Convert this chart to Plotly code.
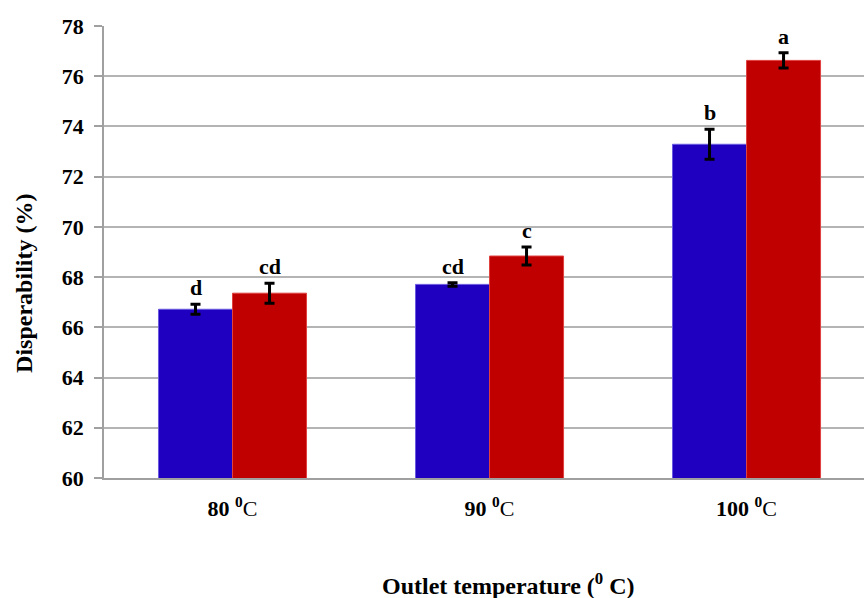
import plotly.graph_objects as go

categories = ["80 °C", "90 °C", "100 °C"]
tick_labels = ["<b>80 <sup>0</sup></b>C", "<b>90 <sup>0</sup></b>C", "<b>100 <sup>0</sup></b>C"]
series1_values = [66.72, 67.71, 73.29]
series1_errors = [0.20, 0.07, 0.60]
series1_letters = ["d", "cd", "b"]
series2_values = [67.36, 68.84, 76.63]
series2_errors = [0.40, 0.36, 0.30]
series2_letters = ["cd", "c", "a"]

xpos = list(range(len(categories)))
font_family = "Liberation Serif, Times New Roman, serif"

fig = go.Figure()
fig.add_trace(go.Bar(
    x=xpos, y=series1_values, name="Series 1",
    marker=dict(color="#2000C0", line=dict(color="#6a5ae0", width=1)),
    error_y=dict(type="data", array=series1_errors, color="black", thickness=3, width=5),
    offsetgroup="a",
))
fig.add_trace(go.Bar(
    x=xpos, y=series2_values, name="Series 2",
    marker=dict(color="#C00000", line=dict(color="#e04040", width=1)),
    error_y=dict(type="data", array=series2_errors, color="black", thickness=3, width=5),
    offsetgroup="b",
))

bar_w = 0.288
for i in xpos:
    fig.add_annotation(x=i - bar_w / 2, y=series1_values[i] + series1_errors[i], text="<b>%s</b>" % series1_letters[i],
                       showarrow=False, yanchor="bottom", yshift=2,
                       font=dict(family=font_family, size=22, color="black"))
    fig.add_annotation(x=i + bar_w / 2, y=series2_values[i] + series2_errors[i], text="<b>%s</b>" % series2_letters[i],
                       showarrow=False, yanchor="bottom", yshift=2,
                       font=dict(family=font_family, size=22, color="black"))

fig.add_annotation(x=-0.126, xref="paper", y=0.43, yref="paper", text="<b>Disperability (%)</b>",
                   textangle=-90, showarrow=False, font=dict(family=font_family, size=24, color="black"))
fig.add_annotation(x=0.532, xref="paper", y=-0.235, yref="paper", text="<b>Outlet temperature (<sup>0</sup> C)</b>",
                   showarrow=False, yanchor="middle", font=dict(family=font_family, size=24, color="black"))

fig.update_layout(
    width=864, height=598,
    margin=dict(l=104, r=0, t=26, b=120),
    paper_bgcolor="white", plot_bgcolor="white",
    showlegend=False,
    barmode="group", bargap=0.424, bargroupgap=0,
    font=dict(family=font_family, color="black"),
)
fig.update_xaxes(
    tickmode="array", tickvals=xpos, ticktext=tick_labels,
    range=[-0.5, 2.457], showline=True, linecolor="#a0a0a0", linewidth=1.5,
    ticks="", tickfont=dict(size=22, family=font_family), showgrid=False,
    ticklabelstandoff=10,
)
fig.update_yaxes(
    range=[60, 78], dtick=2, showline=True, linecolor="#a0a0a0", linewidth=1.5,
    showgrid=True, gridcolor="#b4b4b4", gridwidth=1.5,
    ticks="outside", ticklen=8, tickcolor="#a0a0a0", tickwidth=1.5,
    tickfont=dict(size=22, family=font_family), tickprefix="<b>", ticksuffix="</b>",
    ticklabelstandoff=6, zeroline=False,
)

fig.write_html("out.html")
